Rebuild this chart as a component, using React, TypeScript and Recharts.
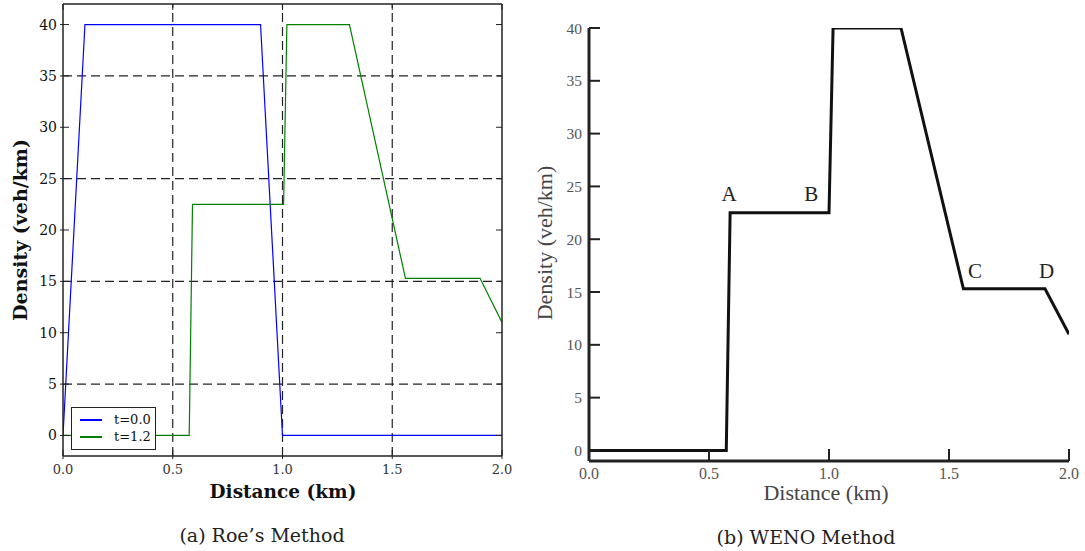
import React from 'react';
import { LineChart, ComposedChart, Line, Scatter, XAxis, YAxis, ReferenceLine, Legend } from 'recharts';

// ---- shared axis values ----
const xTicks = [0, 0.5, 1, 1.5, 2];
const yTicks = [0, 5, 10, 15, 20, 25, 30, 35, 40];
const gridX = [0.5, 1, 1.5];
const gridY = [5, 15, 25, 35];

// ---- (a) Roe's method ----
const roeT0X = [0, 0.1, 0.9, 1.0, 2.0];
const roeT0Y = [0, 40, 40, 0, 0];
const roeT12X = [0, 0.575, 0.59, 1.005, 1.02, 1.305, 1.56, 1.9, 2.0];
const roeT12Y = [0, 0, 22.5, 22.5, 40, 40, 15.3, 15.3, 11];

// ---- (b) WENO method ----
const wenoX = [0, 0.572, 0.588, 1.0, 1.017, 1.3, 1.56, 1.9, 2.0];
const wenoY = [0, 0, 22.5, 22.5, 40, 40, 15.3, 15.3, 11];
const annoLabels = ['A', 'B', 'C', 'D'];
const annoX = [0.584, 0.926, 1.608, 1.907];
const annoY = [24.3, 24.3, 17, 17];

const zip = (xs: number[], ys: number[]) => xs.map((x, i) => ({ x, y: ys[i] }));
const roeT0 = zip(roeT0X, roeT0Y);
const roeT12 = zip(roeT12X, roeT12Y);
const weno = zip(wenoX, wenoY);
const annos = annoLabels.map((label, i) => ({ x: annoX[i], y: annoY[i], label }));

const CM = "'DejaVu Serif', serif";
const TIMES = "'Liberation Serif', 'Times New Roman', serif";

// Roe ticks
const RoeBottomTick = (p: any) => (
  <g>
    <line x1={p.x} x2={p.x} y1={p.y - 6} y2={p.y + 3} stroke="#222" strokeWidth={1} />
    <text x={p.x} y={p.y + 13} textAnchor="middle" dominantBaseline="central" fontFamily={CM} fontSize={13} fill="#333">
      {Number(p.payload.value).toFixed(1)}
    </text>
  </g>
);
const RoeTopTick = (p: any) => (
  <line x1={p.x} x2={p.x} y1={p.y} y2={p.y + 6} stroke="#222" strokeWidth={1} />
);
const RoeLeftTick = (p: any) => (
  <g>
    <line x1={p.x - 3} x2={p.x + 6} y1={p.y} y2={p.y} stroke="#222" strokeWidth={1} />
    <text x={p.x - 6} y={p.y} textAnchor="end" dominantBaseline="central" fontFamily={CM} fontSize={14} fill="#111">
      {p.payload.value}
    </text>
  </g>
);
const RoeRightTick = (p: any) => (
  <line x1={p.x - 6} x2={p.x} y1={p.y} y2={p.y} stroke="#222" strokeWidth={1} />
);

const RoeLegend = (props: any) => (
  <div
    style={{
      border: '1.5px solid #222',
      background: '#fff',
      width: 85,
      height: 43,
      boxSizing: 'border-box',
      paddingTop: 3,
      fontFamily: CM,
      fontSize: 13,
      color: '#111',
    }}
  >
    {(props.payload || []).map((e: any) => (
      <div key={e.value} style={{ display: 'flex', alignItems: 'center', height: 17 }}>
        <span style={{ marginLeft: 8, width: 22, height: 0, borderTop: `2px solid ${e.color}` }} />
        <span style={{ marginLeft: 12 }}>{e.value}</span>
      </div>
    ))}
  </div>
);

// WENO ticks
const WenoBottomTick = (p: any) => (
  <g>
    {p.payload.value !== 0 && (
      <line x1={p.x} x2={p.x} y1={p.y - 12} y2={p.y} stroke="#222" strokeWidth={2} />
    )}
    <text x={p.x} y={p.y + 12} textAnchor="middle" dominantBaseline="central" fontFamily={TIMES} fontSize={16} fill="#555">
      {Number(p.payload.value).toFixed(1)}
    </text>
  </g>
);
const WenoLeftTick = (p: any) => (
  <g>
    <line x1={p.x} x2={p.x + 11} y1={p.y} y2={p.y} stroke="#222" strokeWidth={2} />
    <text x={p.x - 7} y={p.y} textAnchor="end" dominantBaseline="central" fontFamily={TIMES} fontSize={15.5} fill="#555">
      {p.payload.value}
    </text>
  </g>
);
const AnnoShape = (p: any) => (
  <text x={p.cx} y={p.cy} textAnchor="middle" dominantBaseline="central" fontFamily={TIMES} fontSize={21} fill="#222">
    {p.payload.label}
  </text>
);

export default function App() {
  return (
    <div style={{ position: 'absolute', left: 0, top: 0, width: 1085, height: 551, background: '#fff' }}>
      {/* (a) Roe */}
      <div style={{ position: 'absolute', left: 0, top: 0 }}>
        <LineChart width={520} height={551} margin={{ top: 3, left: 62, right: 17, bottom: 94 }}>
          <XAxis
            type="number"
            dataKey="x"
            domain={[0, 2]}
            ticks={xTicks}
            allowDataOverflow
            height={1}
            tickSize={0}
            tickMargin={0}
            tick={<RoeBottomTick />}
            axisLine={{ stroke: '#222', strokeWidth: 1.5 }}
            tickLine={false}
          />
          <XAxis
            xAxisId="top"
            orientation="top"
            type="number"
            dataKey="x"
            domain={[0, 2]}
            ticks={xTicks}
            allowDataOverflow
            height={1}
            tickSize={0}
            tickMargin={0}
            tick={<RoeTopTick />}
            axisLine={{ stroke: '#222', strokeWidth: 1.5 }}
            tickLine={false}
          />
          <YAxis
            type="number"
            domain={[-2, 42]}
            ticks={yTicks}
            allowDataOverflow
            width={1}
            tickSize={0}
            tickMargin={0}
            tick={<RoeLeftTick />}
            axisLine={{ stroke: '#222', strokeWidth: 1.5 }}
            tickLine={false}
          />
          <YAxis
            yAxisId="r"
            orientation="right"
            type="number"
            domain={[-2, 42]}
            ticks={yTicks}
            allowDataOverflow
            width={1}
            tickSize={0}
            tickMargin={0}
            tick={<RoeRightTick />}
            axisLine={{ stroke: '#222', strokeWidth: 1.5 }}
            tickLine={false}
          />
          {gridX.map((v) => (
            <ReferenceLine key={'gx' + v} x={v} stroke="#222" strokeWidth={1.2} strokeDasharray="9 5" />
          ))}
          {gridY.map((v) => (
            <ReferenceLine key={'gy' + v} y={v} stroke="#222" strokeWidth={1.2} strokeDasharray="9 5" />
          ))}
          <Line data={roeT0} dataKey="y" name="t=0.0" type="linear" stroke="#0000ff" strokeWidth={1.2} dot={false} isAnimationActive={false} />
          <Line data={roeT12} dataKey="y" name="t=1.2" type="linear" stroke="#008000" strokeWidth={1.2} dot={false} isAnimationActive={false} />
          <Legend
            layout="vertical"
            align="center"
            verticalAlign="middle"
            content={<RoeLegend />}
            wrapperStyle={{ left: 71, top: 407, width: 85, height: 43 }}
          />
        </LineChart>
      </div>

      {/* (b) WENO */}
      <div style={{ position: 'absolute', left: 520, top: 0 }}>
        <ComposedChart width={565} height={551} margin={{ top: 28, left: 68, right: 16, bottom: 89 }}>
          <XAxis
            type="number"
            dataKey="x"
            domain={[0, 2]}
            ticks={xTicks}
            allowDataOverflow
            height={1}
            tickSize={0}
            tickMargin={0}
            tick={<WenoBottomTick />}
            axisLine={{ stroke: '#222', strokeWidth: 3 }}
            tickLine={false}
          />
          <YAxis
            type="number"
            domain={[-1, 40]}
            ticks={yTicks}
            allowDataOverflow
            width={1}
            tickSize={0}
            tickMargin={0}
            tick={<WenoLeftTick />}
            axisLine={{ stroke: '#222', strokeWidth: 3 }}
            tickLine={false}
          />
          <Line data={weno} dataKey="y" type="linear" stroke="#111" strokeWidth={3} dot={false} isAnimationActive={false} />
          <Scatter data={annos} dataKey="y" shape={<AnnoShape />} isAnimationActive={false} />
        </ComposedChart>
      </div>

      {/* axis titles and captions */}
      <svg width={1085} height={551} style={{ position: 'absolute', left: 0, top: 0, pointerEvents: 'none' }}>
        <text x={20} y={230} transform="rotate(-90 20 230)" textAnchor="middle" dominantBaseline="central" fontFamily={CM} fontWeight="bold" fontSize={19} fill="#111">
          Density (veh/km)
        </text>
        <text x={283} y={491} textAnchor="middle" dominantBaseline="central" fontFamily={CM} fontWeight="bold" fontSize={18.5} fill="#111">
          Distance (km)
        </text>
        <text x={262} y={535} textAnchor="middle" dominantBaseline="central" fontFamily={CM} fontSize={19} fill="#222">
          (a) Roe’s Method
        </text>
        <text x={544} y={243} transform="rotate(-90 544 243)" textAnchor="middle" dominantBaseline="central" fontFamily={TIMES} fontSize={22} fill="#444">
          Density (veh/km)
        </text>
        <text x={826} y={492} textAnchor="middle" dominantBaseline="central" fontFamily={TIMES} fontSize={22} fill="#444">
          Distance (km)
        </text>
        <text x={806} y={537} textAnchor="middle" dominantBaseline="central" fontFamily={CM} fontSize={19} fill="#222">
          (b) WENO Method
        </text>
      </svg>
    </div>
  );
}
